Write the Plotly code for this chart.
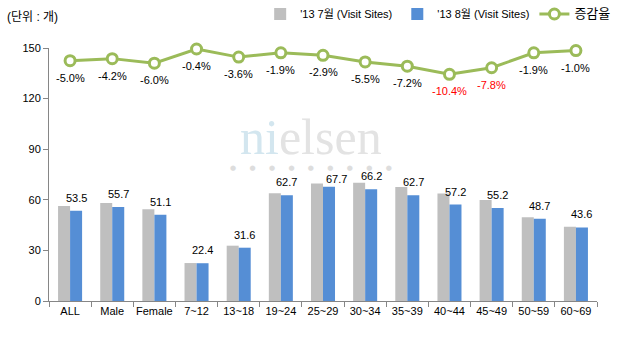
import plotly.graph_objects as go

categories = ["ALL", "Male", "Female", "7~12", "13~18", "19~24", "25~29", "30~34",
              "35~39", "40~44", "45~49", "50~59", "60~69"]
july = [56.3, 58.1, 54.4, 22.5, 32.8, 63.9, 69.7, 70.1, 67.6, 63.8, 59.9, 49.6, 44.0]
august = [53.5, 55.7, 51.1, 22.4, 31.6, 62.7, 67.7, 66.2, 62.7, 57.2, 55.2, 48.7, 43.6]
rate = [-5.0, -4.2, -6.0, -0.4, -3.6, -1.9, -2.9, -5.5, -7.2, -10.4, -7.8, -1.9, -1.0]
rate_labels = [f"{r:.1f}%" for r in rate]
rate_colors = ["#FF0000" if r in (-10.4, -7.8) else "#000000" for r in rate]
y_ticks = [0, 30, 60, 90, 120, 150]

FONT = "Liberation Sans, Noto Sans CJK KR, sans-serif"
GREEN = "#9BBB59"

fig = go.Figure()
fig.add_trace(go.Bar(x=categories, y=july, name="'13 7월 (Visit Sites)",
                     marker=dict(color="#BFBFBF", line_width=0)))
fig.add_trace(go.Bar(x=categories, y=august, name="'13 8월 (Visit Sites)",
                     marker=dict(color="#558ED5", line_width=0)))
fig.add_trace(go.Scatter(x=categories, y=rate, name="<span style='font-size:13px'>증감율</span>",
                         yaxis="y2", mode="lines+markers", cliponaxis=False,
                         line=dict(color=GREEN, width=3),
                         marker=dict(symbol="circle", size=10, color="white",
                                     line=dict(color=GREEN, width=3))))

# watermark (drawn first so labels sit over it)
fig.add_annotation(x=0.478, y=0.65, xref="paper", yref="paper",
                   text="<span style='color:#D3E6EF'>ni</span><span style='color:#E3E3E3'>elsen</span>",
                   showarrow=False, font=dict(size=50, family="Liberation Serif, serif"))
dot_sep = "&nbsp;" * 6
fig.add_annotation(x=0.478, y=0.526, xref="paper", yref="paper",
                   text=dot_sep.join(["●"] * 9),
                   showarrow=False, font=dict(size=7, color="#DDDDDD", family="DejaVu Sans"))

# bar value labels
for c, v in zip(categories, august):
    xs, ys = (13, 0) if c == "25~29" else (6, 5)
    fig.add_annotation(x=c, y=v, yref="y", text=f"{v:.1f}", showarrow=False,
                       xshift=xs, yshift=ys, yanchor="bottom",
                       font=dict(size=11, color="#000000", family=FONT))
# rate labels
for c, r, t, col in zip(categories, rate, rate_labels, rate_colors):
    fig.add_annotation(x=c, y=r, yref="y2", text=t, showarrow=False,
                       yshift=-9, yanchor="top",
                       font=dict(size=11, color=col, family=FONT))

# title
fig.add_annotation(x=-44/548, y=1 + 31/253, xref="paper", yref="paper", text="(단위 : 개)",
                   showarrow=False, xanchor="left", yanchor="middle",
                   font=dict(size=12, color="#000000", family=FONT))

fig.update_layout(
    width=621, height=338,
    margin=dict(l=49, r=24, t=48, b=37, autoexpand=False),
    paper_bgcolor="white", plot_bgcolor="white",
    barmode="group", bargap=0.43, bargroupgap=0,
    font=dict(family=FONT, size=11, color="#000000"),
    showlegend=True,
    legend=dict(orientation="h", x=1.035, xanchor="right", y=1 + 34/253, yanchor="middle",
                font=dict(size=11, family=FONT), traceorder="normal",
                itemwidth=30, bgcolor="rgba(0,0,0,0)"),
    xaxis=dict(range=[-0.5, 12.5], showline=True, linecolor="#868686", linewidth=1,
               tickangle=0, ticks="outside", tickson="boundaries", ticklen=5,
               tickcolor="#868686", showgrid=False, tickfont=dict(size=11), automargin=False),
    yaxis=dict(range=[0, 150], tickvals=y_ticks, showline=True, linecolor="#868686",
               linewidth=1, ticks="outside", ticklen=5, tickcolor="#868686",
               showgrid=False, zeroline=False, tickfont=dict(size=11), automargin=False),
    yaxis2=dict(range=[-100, 0], overlaying="y", side="right", visible=False,
                showgrid=False, zeroline=False),
)

fig.write_html("out.html")
